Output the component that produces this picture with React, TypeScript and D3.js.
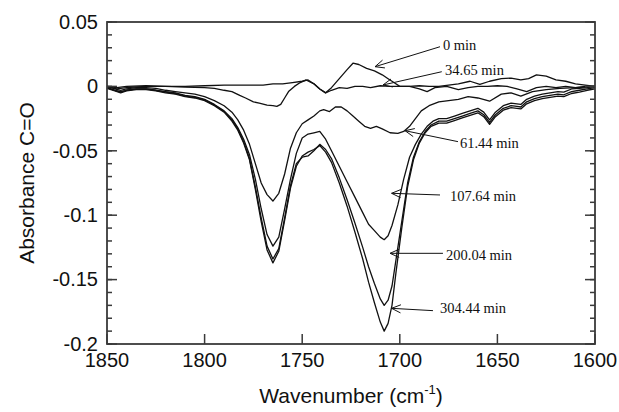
import * as d3 from "d3";

// IR difference spectra, carbonyl region. Each series is [wavenumber, absorbance]
type Pt = [number, number];

const spec0: Pt[] = [
  [1850, 0], [1845, -0.001], [1840, 0], [1830, 0.0005], [1820, 0], [1810, 0], [1800, 0.0005],
  [1790, 0.001], [1780, 0.001], [1770, 0.001], [1765, 0.002], [1760, 0.002], [1755, 0.003],
  [1750, 0.004], [1747, 0.005], [1744, 0.002], [1741, -0.002], [1738, -0.005], [1735, -0.001],
  [1731, 0.006], [1727, 0.013], [1724, 0.018], [1721, 0.017], [1717, 0.014], [1713, 0.012],
  [1709, 0.009], [1706, 0.006], [1703, 0.003], [1700, 0], [1695, 0], [1690, 0.0005], [1685, 0],
  [1680, 0], [1675, 0.001], [1670, 0.002], [1664, 0.004], [1659, 0.0015], [1654, 0.004],
  [1648, 0.006], [1643, 0.0065], [1638, 0.005], [1634, 0.006], [1630, 0.009], [1625, 0.008],
  [1620, 0.005], [1615, 0.004], [1610, 0.002], [1605, 0.001], [1600, 0],
];

const spec34: Pt[] = [
  [1850, 0], [1845, -0.002], [1840, -0.001], [1830, 0], [1820, 0], [1810, -0.0005], [1800, -0.001],
  [1795, -0.0015], [1790, -0.003], [1786, -0.004], [1782, -0.007], [1779, -0.009], [1775, -0.012],
  [1772, -0.013], [1768, -0.0145], [1765, -0.015], [1763, -0.0155], [1761, -0.014], [1759, -0.009],
  [1757, -0.004], [1754, 0], [1751, 0.003], [1748, 0.005], [1744, 0.002], [1741, -0.002],
  [1738, -0.005], [1735, -0.003], [1731, -0.001], [1727, -0.0015], [1723, 0], [1719, 0],
  [1715, -0.001], [1710, 0.0005], [1705, 0], [1700, 0], [1695, 0], [1690, -0.002], [1686, -0.004],
  [1682, -0.001], [1676, 0], [1670, -0.0025], [1665, -0.001], [1660, 0], [1655, 0], [1650, 0.0005],
  [1645, 0], [1640, -0.002], [1635, -0.004], [1630, -0.001], [1625, 0], [1620, -0.001], [1615, 0],
  [1610, -0.001], [1605, 0], [1600, 0],
];

const spec61: Pt[] = [
  [1850, 0], [1846, -0.002], [1843, -0.003], [1840, -0.002], [1835, -0.001], [1830, -0.001],
  [1825, -0.0015], [1820, -0.003], [1815, -0.004], [1810, -0.005], [1805, -0.006], [1800, -0.008],
  [1795, -0.011], [1790, -0.015], [1786, -0.02], [1783, -0.026], [1780, -0.034], [1777, -0.045],
  [1774, -0.06], [1771, -0.075], [1768, -0.084], [1765, -0.089], [1762, -0.083], [1759, -0.068],
  [1756, -0.048], [1753, -0.036], [1750, -0.029], [1747, -0.026], [1744, -0.023], [1741, -0.019],
  [1739, -0.018], [1736, -0.0195], [1733, -0.016], [1730, -0.016], [1727, -0.019], [1724, -0.023],
  [1721, -0.027], [1718, -0.031], [1715, -0.0325], [1712, -0.031], [1709, -0.033], [1705, -0.036],
  [1701, -0.0365], [1698, -0.035], [1695, -0.031], [1692, -0.025], [1689, -0.019], [1685, -0.015],
  [1680, -0.012], [1675, -0.011], [1670, -0.01], [1665, -0.008], [1660, -0.009], [1654, -0.0115],
  [1648, -0.006], [1643, -0.005], [1638, -0.0075], [1632, -0.004], [1625, -0.0025], [1618, -0.0015],
  [1610, -0.001], [1605, -0.0005], [1600, 0],
];

const spec107: Pt[] = [
  [1850, -0.001], [1846, -0.003], [1843, -0.004], [1840, -0.003], [1835, -0.002], [1830, -0.002],
  [1825, -0.003], [1820, -0.004], [1815, -0.005], [1810, -0.007], [1805, -0.008], [1800, -0.01],
  [1795, -0.014], [1790, -0.019], [1786, -0.025], [1783, -0.032], [1780, -0.041], [1777, -0.053],
  [1774, -0.072], [1771, -0.095], [1768, -0.115], [1765, -0.124], [1762, -0.117], [1759, -0.095],
  [1756, -0.072], [1753, -0.052], [1750, -0.04], [1747, -0.037], [1744, -0.036], [1741, -0.035],
  [1738, -0.041], [1735, -0.05], [1731, -0.062], [1727, -0.074], [1723, -0.086], [1719, -0.098],
  [1716, -0.107], [1713, -0.112], [1710, -0.117], [1708, -0.119], [1706, -0.116], [1704, -0.108],
  [1701, -0.092], [1698, -0.072], [1695, -0.055], [1692, -0.045], [1689, -0.037], [1686, -0.031],
  [1683, -0.027], [1680, -0.025], [1676, -0.025], [1672, -0.023], [1668, -0.021], [1664, -0.019],
  [1660, -0.017], [1657, -0.02], [1654, -0.026], [1651, -0.02], [1647, -0.015], [1643, -0.013],
  [1640, -0.0135], [1638, -0.014], [1635, -0.01], [1631, -0.0075], [1627, -0.006], [1623, -0.005],
  [1619, -0.004], [1616, -0.0045], [1612, -0.002], [1608, -0.0015], [1604, -0.001], [1600, 0],
];

const spec200: Pt[] = [
  [1850, -0.001], [1846, -0.003], [1843, -0.0045], [1840, -0.003], [1835, -0.002], [1830, -0.002],
  [1825, -0.003], [1820, -0.0045], [1815, -0.0055], [1810, -0.0075], [1805, -0.0085], [1800, -0.0105],
  [1795, -0.0145], [1790, -0.0195], [1786, -0.026], [1783, -0.033], [1780, -0.043], [1777, -0.056],
  [1774, -0.078], [1771, -0.102], [1768, -0.124], [1765, -0.134], [1762, -0.126], [1759, -0.102],
  [1756, -0.077], [1753, -0.06], [1750, -0.055], [1747, -0.054], [1744, -0.05], [1741, -0.045],
  [1738, -0.049], [1735, -0.056], [1731, -0.071], [1727, -0.088], [1723, -0.106], [1719, -0.125],
  [1716, -0.14], [1713, -0.153], [1710, -0.165], [1708, -0.17], [1706, -0.166], [1704, -0.155],
  [1702, -0.135], [1699, -0.105], [1696, -0.075], [1693, -0.055], [1690, -0.043], [1687, -0.035],
  [1684, -0.03], [1680, -0.027], [1676, -0.027], [1672, -0.025], [1668, -0.023], [1664, -0.021],
  [1660, -0.019], [1657, -0.022], [1654, -0.028], [1651, -0.022], [1647, -0.017], [1643, -0.015],
  [1640, -0.0155], [1638, -0.016], [1635, -0.012], [1631, -0.0095], [1627, -0.008], [1623, -0.007],
  [1619, -0.006], [1616, -0.0065], [1612, -0.004], [1608, -0.003], [1604, -0.002], [1600, -0.001],
];

const spec304: Pt[] = [
  [1850, -0.0015], [1846, -0.0035], [1843, -0.005], [1840, -0.0035], [1835, -0.0025], [1830, -0.0025],
  [1825, -0.0035], [1820, -0.005], [1815, -0.006], [1810, -0.008], [1805, -0.009], [1800, -0.011],
  [1795, -0.015], [1790, -0.02], [1786, -0.027], [1783, -0.034], [1780, -0.044], [1777, -0.057],
  [1774, -0.08], [1771, -0.105], [1768, -0.127], [1765, -0.137], [1762, -0.128], [1759, -0.104],
  [1756, -0.079], [1753, -0.062], [1750, -0.054], [1747, -0.051], [1744, -0.049], [1741, -0.046],
  [1738, -0.051], [1735, -0.059], [1731, -0.075], [1727, -0.093], [1723, -0.113], [1719, -0.134],
  [1716, -0.152], [1713, -0.168], [1710, -0.183], [1708, -0.19], [1706, -0.184], [1704, -0.17],
  [1702, -0.145], [1699, -0.11], [1696, -0.078], [1693, -0.057], [1690, -0.044], [1687, -0.036],
  [1684, -0.031], [1680, -0.0285], [1676, -0.0285], [1672, -0.0265], [1668, -0.0245], [1664, -0.0225],
  [1660, -0.0205], [1657, -0.0235], [1654, -0.0295], [1651, -0.0235], [1647, -0.0185], [1643, -0.0165],
  [1640, -0.017], [1638, -0.0175], [1635, -0.0135], [1631, -0.011], [1627, -0.0095], [1623, -0.0085],
  [1619, -0.0075], [1616, -0.008], [1612, -0.0055], [1608, -0.0045], [1604, -0.003], [1600, -0.002],
];

const series = [spec0, spec34, spec61, spec107, spec200, spec304];

// annotation labels: text anchor, start of arrow line, arrow tip (all in data units)
const labelTexts = ["0 min", "34.65 min", "61.44 min", "107.64 min", "200.04 min", "304.44 min"];
const labelPos: Pt[] = [[1677.9, 0.0283], [1676.8, 0.0089], [1669.2, -0.0478], [1674.3, -0.089], [1676.3, -0.1348], [1679.4, -0.1759]];
const lineStart: Pt[] = [[1679.4, 0.0308], [1678.5, 0.0114], [1670.2, -0.0429], [1679.4, -0.0843], [1677.9, -0.1296], [1683, -0.1741]];
const arrowTip: Pt[] = [[1712.7, 0.0153], [1708.6, 0.0011], [1697.3, -0.0344], [1704.2, -0.083], [1705, -0.1296], [1704.2, -0.1723]];

const W = 619;
const H = 412;
const left = 107, right = 595, top = 22, bottom = 344;

const sans = "'Liberation Sans', Arial, Helvetica, sans-serif";
const serif = "'Liberation Serif', 'Times New Roman', Times, serif";
const axisColor = "#3a3a3a";

export default function App() {
  const x = d3.scaleLinear().domain([1850, 1600]).range([left, right]);
  const y = d3.scaleLinear().domain([-0.2, 0.05]).range([bottom, top]);
  const line = d3.line<Pt>().x(d => x(d[0])).y(d => y(d[1]));

  const yMajor = y.ticks(5);
  const yMinor = y.ticks(25);
  const xMajor = x.ticks(5);
  const fmt = (v: number) => String(+v.toFixed(2));

  // open arrowhead at the tip
  const arrowHead = (s: Pt, t: Pt) => {
    const x0 = x(s[0]), y0 = y(s[1]), x1 = x(t[0]), y1 = y(t[1]);
    const a = Math.atan2(y0 - y1, x0 - x1);
    const len = 10, spread = 0.42;
    const p1 = [x1 + len * Math.cos(a + spread), y1 + len * Math.sin(a + spread)];
    const p2 = [x1 + len * Math.cos(a - spread), y1 + len * Math.sin(a - spread)];
    return `M${x0},${y0}L${x1},${y1}M${p1[0]},${p1[1]}L${x1},${y1}L${p2[0]},${p2[1]}`;
  };

  return (
    <svg width={W} height={H} style={{ position: "absolute", left: 0, top: 0, background: "#fff" }}>
      {/* spectra */}
      <g fill="none" stroke="#111" strokeWidth={1.3} strokeLinejoin="round">
        {series.map((s, i) => <path key={i} d={line(s) || ""} />)}
      </g>

      {/* frame */}
      <rect x={left} y={top} width={right - left} height={bottom - top} fill="none" stroke={axisColor} strokeWidth={1.8} />

      {/* y ticks, left and right, pointing inward */}
      <g stroke={axisColor} strokeWidth={1.5}>
        {yMinor.map((v, i) => (
          <g key={i}>
            <line x1={left} x2={left + 5} y1={y(v)} y2={y(v)} />
            <line x1={right} x2={right - 5} y1={y(v)} y2={y(v)} />
          </g>
        ))}
        {yMajor.map((v, i) => (
          <g key={i}>
            <line x1={left} x2={left + 10} y1={y(v)} y2={y(v)} />
            <line x1={right} x2={right - 10} y1={y(v)} y2={y(v)} />
          </g>
        ))}
        {xMajor.map((v, i) => (
          <line key={i} x1={x(v)} x2={x(v)} y1={bottom} y2={bottom - 10} />
        ))}
      </g>

      <g fontFamily={sans} fontSize={20} fill="#111">
        {yMajor.map((v, i) => (
          <text key={i} x={left - 9} y={y(v)} dy="0.34em" textAnchor="end">{fmt(v)}</text>
        ))}
        {xMajor.map((v, i) => (
          <text key={i} x={x(v)} y={367} textAnchor="middle">{v}</text>
        ))}
      </g>

      <text x={(left + right) / 2} y={403} textAnchor="middle" fontFamily={sans} fontSize={21} fill="#111">
        Wavenumber (cm<tspan fontSize={13} dy={-9}>-1</tspan><tspan dy={9}>)</tspan>
      </text>
      <text transform={`translate(34,${(top + bottom) / 2}) rotate(-90)`} textAnchor="middle" fontFamily={sans} fontSize={21} fill="#111">
        Absorbance C=O
      </text>

      {/* annotations */}
      <g fill="none" stroke="#111" strokeWidth={1}>
        {labelTexts.map((_, i) => <path key={i} d={arrowHead(lineStart[i], arrowTip[i])} />)}
      </g>
      <g fontFamily={serif} fontSize={14.5} fill="#111">
        {labelTexts.map((t, i) => (
          <text key={i} x={x(labelPos[i][0])} y={y(labelPos[i][1])}>{t}</text>
        ))}
      </g>
    </svg>
  );
}
